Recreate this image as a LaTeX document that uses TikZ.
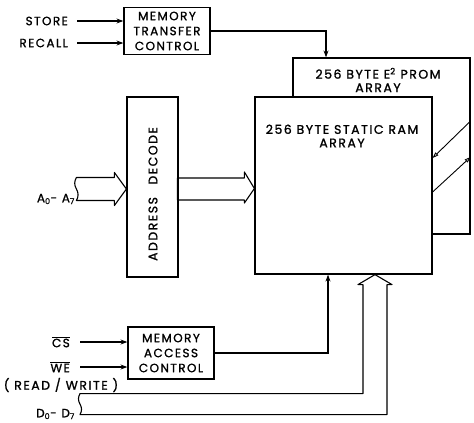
\documentclass[tikz,border=0pt]{standalone}
\usepackage{fontspec}
\setmainfont{Poppins}[LetterSpace=12, FakeBold=1.2]
\usetikzlibrary{arrows.meta, positioning, calc}
\tikzset{
  box/.style    = {draw, line width=1.2pt, fill=white, align=center, inner sep=2pt,
                   font=\fontsize{12}{15}\selectfont},
  blk/.style    = {draw, line width=1.2pt, fill=white, minimum width=177pt, minimum height=177pt},
  txt/.style    = {align=center, inner sep=0pt, font=\fontsize{12.5}{13.5}\selectfont},
  lbl/.style    = {anchor=east, inner sep=0pt, font=\fontsize{12}{13}\selectfont},
  arrow/.style  = {-{Stealth[length=7pt, width=5pt]}, line width=1.2pt},
  xarrow/.style = {-{Triangle[open, length=6pt, width=4pt]}, line width=0.9pt},
  bus/.style    = {line width=1.1pt, line join=round},
}

\begin{document}
\begin{tikzpicture}[x=1pt, y=-1pt]
  \useasboundingbox (0,0) rectangle (474,423);
  % blocks
  \node[box, minimum width=86pt, minimum height=47pt] (mtc) at (167,31) {MEMORY\\TRANSFER\\CONTROL};
  \node[blk, minimum height=176pt] (e2) at (381.5,146) {};
  \node[blk] (ram) at (343.5,185.5) {};
  \node[txt] (e2txt) at (378,80) {256 BYTE E\textsuperscript{2} PROM\\ARRAY};
  \node[txt] (ramtxt) at (342,136) {256 BYTE STATIC RAM\\ARRAY};
  \node[box, minimum width=51pt, minimum height=180pt] (adec) at (152.5,187) {};
  \node[txt, rotate=90] (adectxt) at (153,194) {ADDRESS\quad DECODE};
  \node[box, minimum width=86pt, minimum height=52pt] (mac) at (171,353) {MEMORY\\ACCESS\\CONTROL};

  % labels
  \node[lbl] (store) at (68,21) {STORE};
  \node[lbl] (recall) at (68,43) {RECALL};
  \node[lbl] (cs) at (70,342) {$\overline{\mbox{CS}}$};
  \node[lbl] (we) at (70,367) {$\overline{\mbox{WE}}$};
  \node[txt] (rw) at (61,385) {( READ / WRITE )};
  \node[lbl] (alab) at (75,199) {A\textsubscript{0}- A\textsubscript{7}};
  \node[lbl] (dlab) at (75,414) {D\textsubscript{0}- D\textsubscript{7}};

  % control lines
  \draw[arrow] ([xshift=9pt]store.east) -- (mtc.west |- store);
  \draw[arrow] ([xshift=9pt]recall.east) -- (mtc.west |- recall);
  \draw[arrow] ([xshift=10pt]cs.east) -- (mac.west |- cs);
  \draw[arrow] ([xshift=10pt]we.east) -- (mac.west |- we);
  \draw[arrow] (mtc.east) -| ([xshift=-55.5pt]e2.north);
  \draw[arrow] (mac.east) -| ([xshift=-15.5pt]ram.south);

  % transfer between arrays
  \draw[xarrow] ([yshift=25pt]e2.east) -- ([yshift=27.5pt]ram.east);
  \draw[xarrow] ([yshift=-6.5pt]ram.east) -- ([yshift=-11pt]e2.east);

  % buses
  \draw[bus] ([yshift=-2pt]adec.west) -- ++(-12,-16.5) -- ++(0,5) -- ++(-38,0)
    to[out=-120, in=120] ++(0,11.5) to[out=-60, in=60] ++(0,11.5)
    -- ++(38,0) -- ++(0,5) -- cycle;
  \draw[bus] ([yshift=-3pt]ram.west) -- ++(-10,-16.5) -- ++(0,6) -- ++(-67,0)
    -- ++(0,22) -- ++(67,0) -- ++(0,3) -- cycle;
  \draw[bus] ([xshift=31.5pt]ram.south) -- ++(-17,10) -- ++(5,0) -- ++(0,109) -- ++(-283,0)
    to[out=-120, in=120] ++(0,10.5) to[out=-60, in=60] ++(0,10.5)
    -- ++(307,0) -- ++(0,-130) -- ++(5,0) -- cycle;
\end{tikzpicture}
\end{document}
